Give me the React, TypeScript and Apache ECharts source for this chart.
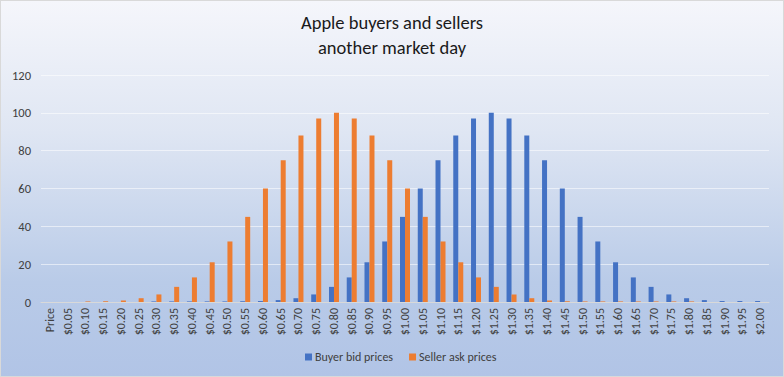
import React, { useEffect, useRef } from "react";
import * as echarts from "echarts";

const categories = [
  "Price", "$0.05", "$0.10", "$0.15", "$0.20", "$0.25", "$0.30", "$0.35", "$0.40", "$0.45", "$0.50",
  "$0.55", "$0.60", "$0.65", "$0.70", "$0.75", "$0.80", "$0.85", "$0.90", "$0.95", "$1.00",
  "$1.05", "$1.10", "$1.15", "$1.20", "$1.25", "$1.30", "$1.35", "$1.40", "$1.45", "$1.50",
  "$1.55", "$1.60", "$1.65", "$1.70", "$1.75", "$1.80", "$1.85", "$1.90", "$1.95", "$2.00",
];

const buyerBid = [
  null, 0, 0, 0, 0, 0, 0.3, 0.3, 0.3, 0.3, 0.3,
  0.4, 0.5, 1, 2, 4, 8, 13, 21, 32, 45,
  60, 75, 88, 97, 100, 97, 88, 75, 60, 45,
  32, 21, 13, 8, 4, 2, 1, 0.5, 0.5, 0.5,
];

const sellerAsk = [
  null, 0, 0.3, 0.4, 0.8, 2, 4, 8, 13, 21, 32,
  45, 60, 75, 88, 97, 100, 97, 88, 75, 60,
  45, 32, 21, 13, 8, 4, 2, 0.8, 0.4, 0.3,
  0.3, 0.3, 0.3, 0.3, 0.3, 0.3, 0, 0, 0, 0,
];

const yTicks = { min: 0, max: 120, interval: 20 };

const FONT = "Carlito, Calibri, 'Liberation Sans Narrow', 'Open Sans', sans-serif";

export default function App() {
  const ref = useRef<HTMLDivElement>(null);
  useEffect(() => {
    document.body.style.margin = "0";
    const chart = echarts.init(ref.current!, null, { renderer: "svg" });
    chart.setOption({
      animation: false,
      textStyle: { fontFamily: FONT },
      title: {
        text: "Apple buyers and sellers\nanother market day",
        left: "center",
        top: 4,
        textStyle: { fontFamily: FONT, fontSize: 18.5, fontWeight: "normal", color: "#1a1a1a", lineHeight: 25 },
      },
      legend: {
        top: 345,
        left: 299,
        icon: "rect",
        itemWidth: 7,
        itemHeight: 7,
        itemGap: 16,
        textStyle: { fontFamily: FONT, fontSize: 12, color: "#404040", padding: [0, 0, 0, -2] },
        data: ["Buyer bid prices", "Seller ask prices"],
      },
      grid: { left: 40, right: 14, top: 74, bottom: 74, containLabel: false },
      xAxis: {
        type: "category",
        data: categories,
        axisLine: { lineStyle: { color: "#d9d9d9" } },
        axisTick: { show: false },
        axisLabel: { rotate: 90, interval: 0, fontFamily: FONT, fontSize: 12, color: "#404040", margin: 6 },
      },
      yAxis: {
        type: "value",
        min: yTicks.min,
        max: yTicks.max,
        interval: yTicks.interval,
        axisLine: { show: false },
        axisTick: { show: false },
        axisLabel: { fontFamily: FONT, fontSize: 12.5, color: "#404040", margin: 10 },
        splitLine: { lineStyle: { color: "rgba(255,255,255,0.55)" } },
      },
      series: [
        {
          name: "Buyer bid prices",
          type: "bar",
          data: buyerBid,
          barWidth: 5,
          barGap: "0%",
          itemStyle: { color: "#4472c4" },
        },
        {
          name: "Seller ask prices",
          type: "bar",
          data: sellerAsk,
          barWidth: 5,
          barGap: "0%",
          itemStyle: { color: "#ed7d31" },
        },
      ],
    });
    return () => chart.dispose();
  }, []);
  return (
    <div
      style={{
        position: "fixed",
        left: 0,
        top: 0,
        width: 784,
        height: 377,
        boxSizing: "border-box",
        border: "1px solid #d9d9d9",
        background: "linear-gradient(to bottom, #f5f6fb 0%, #dfe6f3 35%, #b9cbe8 75%, #b1c4e6 100%)",
      }}
    >
      <div ref={ref} style={{ width: "100%", height: "100%" }} />
    </div>
  );
}
